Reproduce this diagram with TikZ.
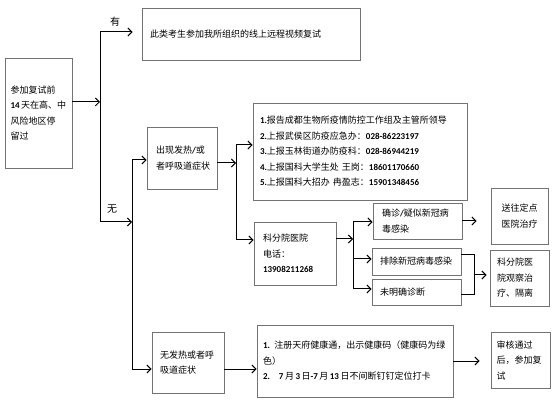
\documentclass[tikz,border=0pt]{standalone}
\usepackage{fontspec}
\setmainfont{Noto Sans CJK SC}
\newfontfamily\numf{Carlito}
\usetikzlibrary{arrows.meta}
\newcommand{\nb}[1]{{\numf\bfseries #1}}
\tikzset{
  box/.style={draw=black!55, line width=0.8pt, inner sep=0pt, align=left,
    font=\fontsize{9}{15.5}\selectfont},
  ln/.style={draw=black, line width=1pt, line cap=rect},
  arr/.style={ln, -{Straight Barb[length=4pt,width=8pt]}},
  lbl/.style={font=\fontsize{10}{12}\selectfont, inner sep=0pt}
}
\begin{document}
\begin{tikzpicture}[x=1pt,y=-1pt]
\useasboundingbox (0,0) rectangle (554,403);
\fill[white] (0,0) rectangle (554,403);

% boxes
\node[box, minimum width=67pt, minimum height=110pt, text width=56pt] (L) at (38.5,113)
  {参加复试前\\\mbox{\nb{14}\,天在高、中}\\风险地区停\\留过};
\node[box, minimum width=218pt, minimum height=52pt, text width=202pt] (T) at (251,34)
  {此类考生参加我所组织的线上远程视频复试};
\node[box, minimum width=70pt, minimum height=62pt, text width=52pt] (S) at (182,158)
  {出现发热\nb{/}或\\者呼吸道症状};
\node[box, minimum width=214pt, minimum height=97pt, text width=200pt] (R) at (360,151.5)
  {\nb{1.}报告成都生物所疫情防控工作组及主管所领导\\
   \nb{2.}上报武侯区防疫应急办：\nb{028-86223197}\\
   \nb{3.}上报玉林街道办防疫科：\nb{028-86944219}\\
   \nb{4.}上报国科大学生处\ 王岗：\nb{18601170660}\\
   \nb{5.}上报国科大招办\ 冉盈志：\nb{15901348456}};
\node[box, minimum width=82pt, minimum height=63pt, text width=64pt] (H) at (295,253.5)
  {科分院医院\\电话：\\\nb{13908211268}};
\node[box, minimum width=89pt, minimum height=36pt, text width=71pt] (C) at (417.5,221)
  {确诊\nb{/}疑似新冠病\\毒感染};
\node[box, minimum width=89pt, minimum height=27pt, text width=73pt] (E) at (416.5,261.5)
  {排除新冠病毒感染};
\node[box, minimum width=89pt, minimum height=26pt, text width=73pt] (U) at (416.5,292)
  {未明确诊断};
\node[box, align=center, minimum width=57pt, minimum height=56pt, text width=45pt] (D) at (519.5,216)
  {送往定点\\医院治疗};
\node[box, minimum width=59pt, minimum height=56pt, text width=45pt] (O) at (519.5,278)
  {科分院医\\院观察治\\疗、隔离};
\node[box, minimum width=72pt, minimum height=61pt, text width=56pt] (N) at (188,362.5)
  {无发热或者呼\\吸道症状};
\node[box, minimum width=196pt, minimum height=72pt, text width=184pt] (K) at (355,361)
  {\nb{1.} 注册天府健康通，出示健康码（健康码为绿\\色）\\
   \mbox{\nb{2.}\quad\nb{7}\,月\,\nb{3}\,日\nb{-7}\,月\,\nb{13}\,日不间断钉钉定位打卡}};
\node[box, minimum width=59pt, minimum height=56pt, text width=48pt] (A) at (520.5,360.5)
  {审核通过\\后，参加复\\试};

% labels
\node[lbl] (yes) at (115,22) {有};
\node[lbl] (no) at (112,209) {无};

% junctions
\coordinate (j1t) at (100,32);
\coordinate (j1m) at (100,102);
\coordinate (j1b) at (100,222);
\coordinate (j2t) at (132,160);
\coordinate (j2b) at (132,369);
\coordinate (j3a) at (236,163);
\coordinate (j3t) at (236,145);
\coordinate (j3b) at (236,240);
\coordinate (j4m) at (353,239);
\coordinate (j4t) at (353,222);
\coordinate (j4e) at (353,259);
\coordinate (j4b) at (353,289);
\coordinate (j5t) at (474,255);
\coordinate (j5m) at (474,275);
\coordinate (j5b) at (474,295);

% connectors
\draw[arr] (L.east |- j1m) -- (j1m);
\draw[arr, shorten >=9pt] (j1b) -- (j1t) -- (T.west |- j1t);
\draw[arr] (j1t) -- (j1b) -- (j2t |- j1b);
\draw[arr] (j2b) -- (j2t) -- (S.west |- j2t);
\draw[arr] (j2t) -- (j2b) -- (N.west |- j2b);
\draw[arr] (S.east |- j3a) -- (j3a);
\draw[arr] (j3b) -- (j3t) -- (R.west |- j3t);
\draw[arr] (j3t) -- (j3b) -- (H.west |- j3b);
\draw[arr] (H.east |- j4m) -- (j4m);
\draw[arr] (j4b) -- (j4t) -- (C.west |- j4t);
\draw[arr] (j4e) -- (E.west |- j4e);
\draw[arr] (j4t) -- (j4b) -- (U.west |- j4b);
\draw[arr, shorten >=14pt] (C.east) -- (D.west |- C.east);
\draw[ln] (E.east |- j5t) -- (j5t) -- (j5b) -- (U.east |- j5b);
\draw[arr, shorten >=3pt] (j5m) -- (O.west |- j5m);
\draw[arr] (N.east |- j2b) -- (K.west |- j2b);
\draw[arr, shorten >=11pt] (K.east) -- (A.west |- K.east);
\end{tikzpicture}
\end{document}
